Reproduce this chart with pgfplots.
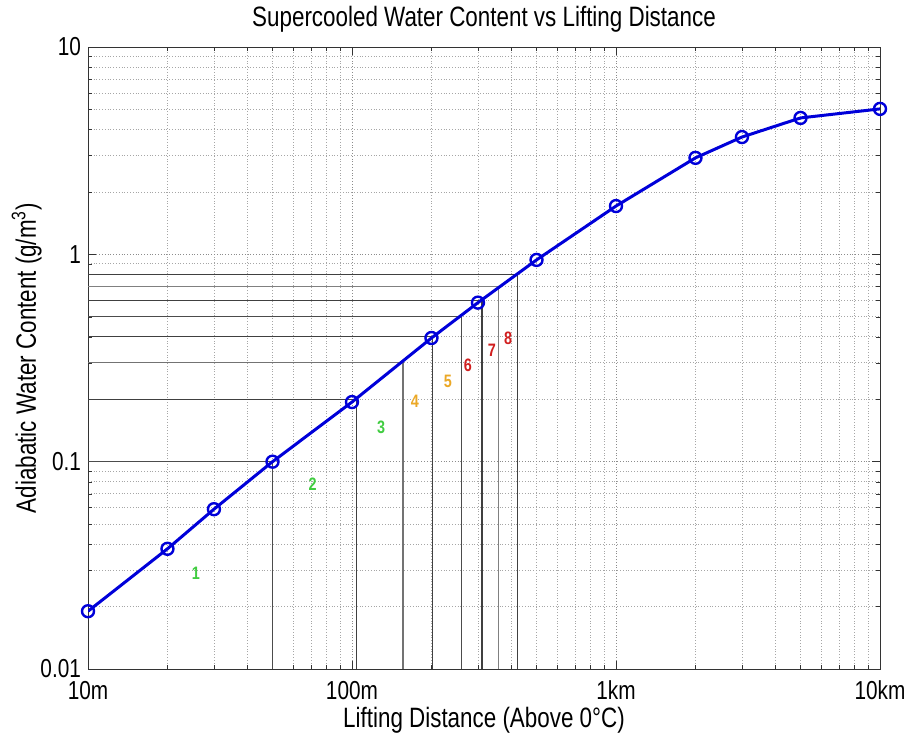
\documentclass[border=0pt]{standalone}
\usepackage{fontspec}
\setmainfont{Liberation Sans}[FakeStretch=0.8]
\usepackage{pgfplots}
\pgfplotsset{compat=1.18}

\definecolor{lineblue}{rgb}{0,0,0.85}
\definecolor{numgreen}{rgb}{0.25,0.80,0.25}
\definecolor{numorange}{rgb}{0.92,0.66,0.15}
\definecolor{numred}{rgb}{0.82,0.12,0.12}

\begin{document}
\begin{tikzpicture}
\useasboundingbox (-44pt,-33.5pt) rectangle (412pt,334.5pt);
\begin{axis}[
    xmode=log, ymode=log,
    scale only axis,
    width=396pt, height=311pt,
    xmin=10, xmax=10000,
    ymin=0.01, ymax=10,
    xtick={10,100,1000,10000},
    xticklabels={10m,100m,1km,10km},
    ytick={0.01,0.1,1,10},
    yticklabels={0.01,0.1,1,10},
    minor xtick={20,30,40,50,60,70,80,90,200,300,400,500,600,700,800,900,2000,3000,4000,5000,6000,7000,8000,9000},
    minor ytick={0.02,0.03,0.04,0.05,0.06,0.07,0.08,0.09,0.2,0.3,0.4,0.5,0.6,0.7,0.8,0.9,2,3,4,5,6,7,8,9},
    tick align=inside,
    xtick pos=both, ytick pos=both,
    major tick length=4pt, minor tick length=2pt,
    grid=both,
    major grid style={densely dotted, black!45},
    minor grid style={densely dotted, black!35},
    axis line style={black!80},
    tick style={black!80},
    tick label style={font=\fontsize{13}{15}\selectfont},
    xticklabel style={yshift=-2.5pt},
    title={Supercooled Water Content vs Lifting Distance},
    title style={font=\fontsize{14}{16}\selectfont, yshift=-2pt},
    xlabel={Lifting Distance (Above 0°C)},
    ylabel={Adiabatic Water Content (g/m\textsuperscript{3})},
    label style={font=\fontsize{14}{16}\selectfont},
    xlabel style={yshift=3.5pt},
    ylabel style={yshift=-7.5pt},
]
% guide lines: level -> curve -> bottom
\addplot[black!70, line width=0.6pt] coordinates {(10,0.1)(50,0.1)(50,0.01)};
\addplot[black!75, line width=0.6pt] coordinates {(10,0.2)(104,0.2)(104,0.01)};
\addplot[black!55, line width=0.6pt] coordinates {(10,0.3)(156,0.3)(156,0.01)};
\addplot[black!75, line width=0.6pt] coordinates {(10,0.4)(202,0.4)(202,0.01)};
\addplot[black!70, line width=0.6pt] coordinates {(10,0.5)(259,0.5)(259,0.01)};
\addplot[black!75, line width=0.6pt] coordinates {(10,0.6)(311,0.6)(311,0.01)};
\addplot[black!50, line width=0.6pt] coordinates {(10,0.7)(360,0.7)(360,0.01)};
\addplot[black!75, line width=0.6pt] coordinates {(10,0.8)(425,0.8)(425,0.01)};

\addplot[lineblue, line width=1.5pt, mark=o, mark size=3pt, mark options={solid, line width=1.2pt}]
coordinates {
    (10,0.019)(20,0.038)(30,0.059)(50,0.100)(100,0.194)(200,0.395)
    (300,0.585)(500,0.94)(1000,1.71)(2000,2.92)(3000,3.68)(5000,4.55)(10000,5.03)
};

\begin{scope}[font=\bfseries\fontsize{9}{10}\selectfont]
\node[text=numgreen]  at (axis cs:25.6,0.029) {1};
\node[text=numgreen]  at (axis cs:71,0.078)   {2};
\node[text=numgreen]  at (axis cs:129,0.147)  {3};
\node[text=numorange] at (axis cs:173,0.196)  {4};
\node[text=numorange] at (axis cs:231,0.245)  {5};
\node[text=numred]    at (axis cs:275,0.293)  {6};
\node[text=numred]    at (axis cs:339,0.346)  {7};
\node[text=numred]    at (axis cs:390,0.395)  {8};
\end{scope}
\end{axis}
\end{tikzpicture}
\end{document}
